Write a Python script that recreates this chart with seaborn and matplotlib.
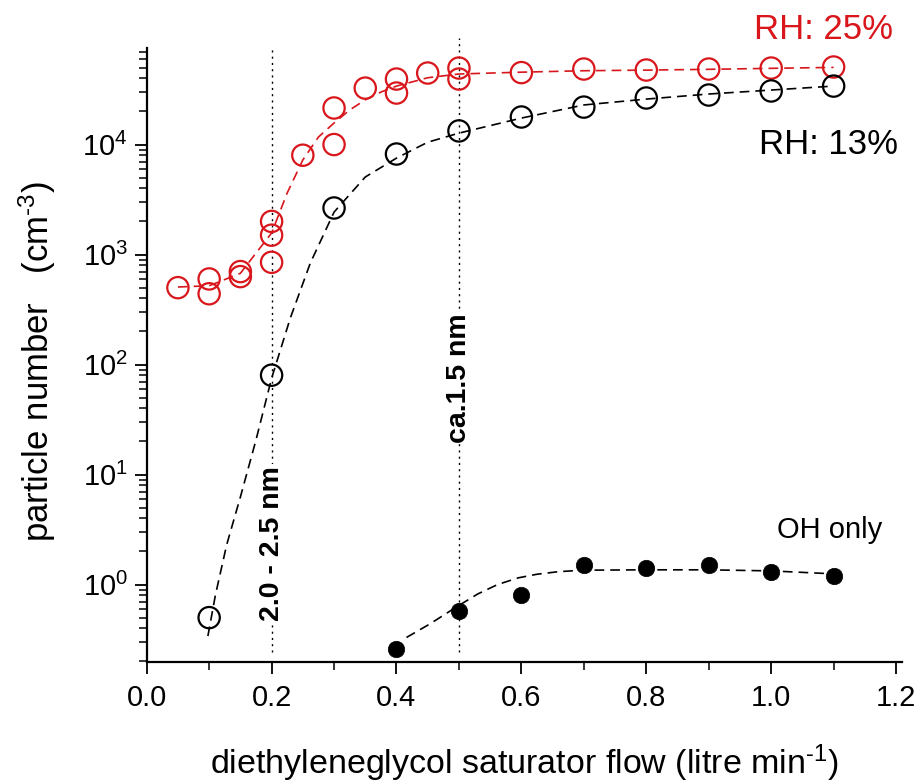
import numpy as np
import pandas as pd
import matplotlib
matplotlib.use("Agg")
import matplotlib.pyplot as plt
from matplotlib.ticker import MultipleLocator, LogLocator
import seaborn as sns

# ---------------- data ----------------
rh25_x = [0.05, 0.10, 0.10, 0.15, 0.15, 0.20, 0.20, 0.20, 0.25, 0.30, 0.30,
          0.35, 0.40, 0.40, 0.45, 0.50, 0.50, 0.60, 0.70, 0.80, 0.90, 1.00, 1.10]
rh25_y = [500, 600, 440, 700, 630, 2000, 1500, 850, 8000, 10000, 21500,
          32600, 39400, 29400, 44700, 49600, 39400, 45100, 48600, 47600, 48600, 49600, 50700]

rh13_x = [0.10, 0.20, 0.30, 0.40, 0.50, 0.60, 0.70, 0.80, 0.90, 1.00, 1.10]
rh13_y = [0.50, 80, 2650, 8200, 13300, 17800, 21900, 26500, 28200, 30700, 34000]

oh_x = [0.40, 0.50, 0.60, 0.70, 0.80, 0.90, 1.00, 1.10]
oh_y = [0.26, 0.57, 0.80, 1.50, 1.41, 1.50, 1.30, 1.19]

# dashed fit curves
fit25_x = [0.05, 0.10, 0.15, 0.175, 0.20, 0.225, 0.25, 0.275, 0.30, 0.325, 0.35,
           0.375, 0.40, 0.45, 0.50, 0.60, 0.70, 0.80, 0.90, 1.00, 1.10]
fit25_y = [507, 520, 675, 1030, 1570, 3630, 7240, 11700, 15700, 20600, 25500,
           30000, 34000, 40500, 43800, 45500, 46900, 47500, 48300, 49300, 50300]

fit13_x = [0.098, 0.110, 0.128, 0.150, 0.175, 0.200, 0.230, 0.262, 0.30, 0.35, 0.40,
           0.45, 0.50, 0.60, 0.70, 0.80, 0.90, 1.00, 1.10]
fit13_y = [0.34, 0.80, 2.29, 6.24, 20.6, 75, 265, 837, 2430, 5070, 7530,
           10500, 12700, 17400, 22900, 25900, 28800, 31300, 34000]

fitoh_x = [0.416, 0.454, 0.495, 0.53, 0.562, 0.595, 0.625, 0.66, 0.70, 0.80, 0.90, 1.00, 1.10]
fitoh_y = [0.33, 0.44, 0.62, 0.82, 1.00, 1.15, 1.24, 1.31, 1.35, 1.36, 1.36, 1.33, 1.25]

size_lines_x = [0.2, 0.5]
size_labels = ["2.0 - 2.5 nm", "ca.1.5 nm"]

x_ticks = [0.0, 0.2, 0.4, 0.6, 0.8, 1.0, 1.2]

# ---------------- style ----------------
sns.set_theme(style="ticks")
plt.rcParams["font.family"] = ["Liberation Sans", "DejaVu Sans"]
plt.rcParams["mathtext.default"] = "regular"
plt.rcParams["mathtext.fontset"] = "custom"
plt.rcParams["mathtext.rm"] = "Liberation Sans"
plt.rcParams["lines.scale_dashes"] = False
plt.rcParams["text.color"] = "black"
plt.rcParams["axes.labelcolor"] = "black"
plt.rcParams["xtick.color"] = "black"
plt.rcParams["ytick.color"] = "black"

RED = "#d8161b"
BLACK = "#000000"

W, H = 919, 784
fig = plt.figure(figsize=(W / 100, H / 100), dpi=100)
ax = fig.add_axes([146.7 / W, 1 - 662 / H, 755 / W, (662 - 48.3) / H])

dash = (0, (7, 4.3))

# fit curves
sns.lineplot(x=fit25_x, y=fit25_y, ax=ax, color=RED, lw=1.2, linestyle=dash,
             estimator=None, sort=False)
sns.lineplot(x=fit13_x, y=fit13_y, ax=ax, color=BLACK, lw=1.2, linestyle=dash,
             estimator=None, sort=False)
sns.lineplot(x=fitoh_x, y=fitoh_y, ax=ax, color=BLACK, lw=1.2, linestyle=dash,
             estimator=None, sort=False)

# markers
sns.scatterplot(x=rh25_x, y=rh25_y, ax=ax, marker="o", s=235,
                facecolor="none", edgecolor=RED, linewidth=1.6, zorder=3)
sns.scatterplot(x=rh13_x, y=rh13_y, ax=ax, marker="o", s=235,
                facecolor="none", edgecolor=BLACK, linewidth=1.6, zorder=3)
sns.scatterplot(x=oh_x, y=oh_y, ax=ax, marker="o", s=140,
                color=BLACK, edgecolor=BLACK, linewidth=0.5, zorder=3)

ax.set_yscale("log")
ax.set_xlim(0, 1.209)
ax.set_ylim(0.1975, 7.5e4)

# vertical dotted lines
ax.vlines(size_lines_x[0], 0.243, 7.7e4, colors=BLACK, lw=1.0,
          linestyles=(0, (1.5, 3)), clip_on=False, zorder=1)
ax.vlines(size_lines_x[1], 0.243, 9.3e4, colors=BLACK, lw=1.0,
          linestyles=(0, (1.5, 3)), clip_on=False, zorder=1)

bb = dict(facecolor="white", edgecolor="none", pad=1.0)
ax.text(size_lines_x[0], 2.38, size_labels[0], rotation=90, ha="center", va="center",
        fontsize=20.5, fontweight="bold", color=BLACK, bbox=bb, zorder=2)
ax.text(size_lines_x[1], 75.4, size_labels[1], rotation=90, ha="center", va="center",
        fontsize=20.5, fontweight="bold", color=BLACK, bbox=bb, zorder=2)

# series labels
fig.text(893 / W, 1 - 39 / H, "RH: 25%", color=RED, fontsize=25, ha="right", va="baseline")
fig.text(898 / W, 1 - 154 / H, "RH: 13%", color=BLACK, fontsize=25, ha="right", va="baseline")
fig.text(777 / W, 1 - 538 / H, "OH only", color=BLACK, fontsize=21, ha="left", va="baseline")

# axes styling
for s in ["top", "right"]:
    ax.spines[s].set_visible(False)
for s in ["left", "bottom"]:
    ax.spines[s].set_linewidth(1.6)
    ax.spines[s].set_color(BLACK)

ax.set_xticks(x_ticks)
ax.set_xticklabels([f"{v:.1f}" for v in x_ticks])
ax.xaxis.set_minor_locator(MultipleLocator(0.1))
ax.yaxis.set_major_locator(LogLocator(base=10, numticks=20))
ax.yaxis.set_minor_locator(LogLocator(base=10, subs=np.arange(2, 10), numticks=20))
ax.tick_params(which="major", direction="out", length=8.6, width=1.3, color=BLACK,
               labelsize=21, labelcolor=BLACK, pad=5)
ax.tick_params(which="minor", direction="out", length=5.5, width=1.1, color=BLACK)
ax.tick_params(axis="x", which="major", pad=7)
ax.grid(False)

ax.set_xlabel(r"diethyleneglycol saturator flow (litre min$^{\text{-}1}$)", fontsize=24.5, color=BLACK)
ax.set_ylabel(r"particle number   (cm$^{\text{-}3}$)", fontsize=25, color=BLACK)
ax.xaxis.set_label_coords(0.5, -0.131)
ax.yaxis.set_label_coords(-0.118, 0.489)

fig.savefig("out.png", dpi=100)
